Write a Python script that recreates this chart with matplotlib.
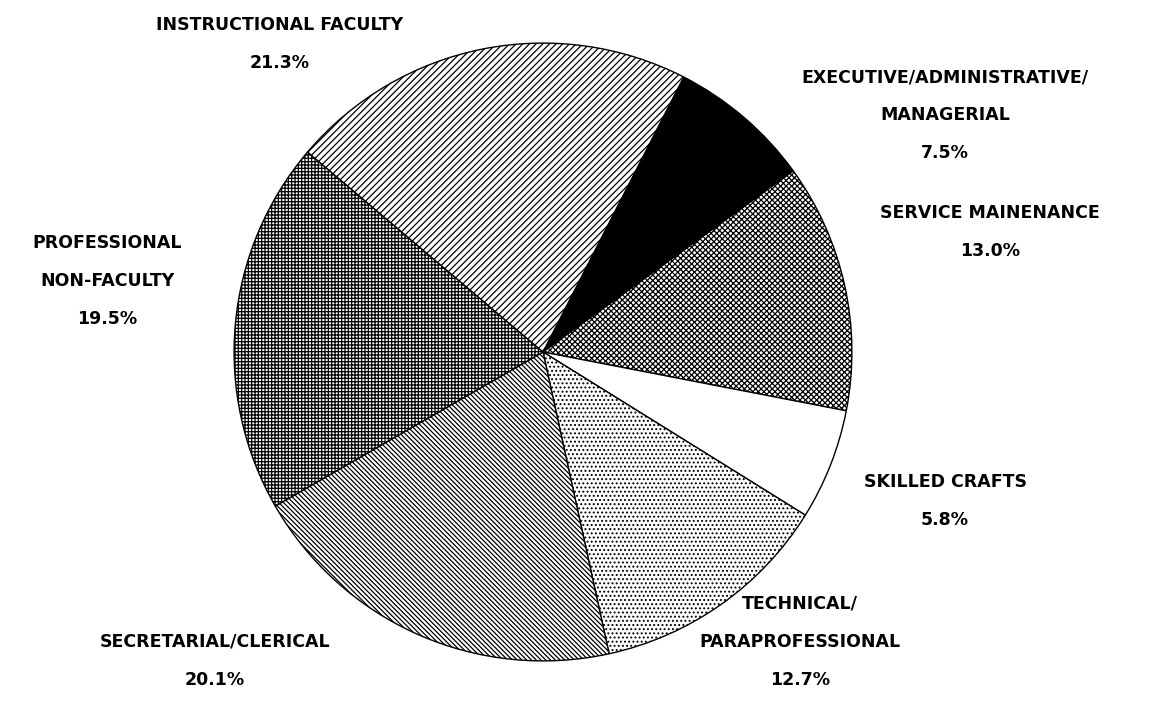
import matplotlib
matplotlib.use("Agg")
import matplotlib.pyplot as plt

# employee categories, clockwise from the top (starting with executive)
categories = ["EXECUTIVE/ADMINISTRATIVE/\nMANAGERIAL", "SERVICE MAINENANCE",
              "SKILLED CRAFTS", "TECHNICAL/\nPARAPROFESSIONAL",
              "SECRETARIAL/CLERICAL", "PROFESSIONAL\nNON-FACULTY",
              "INSTRUCTIONAL FACULTY"]
shares = [7.5, 13.0, 5.8, 12.7, 20.1, 19.5, 21.3]

fills = ["black", "white", "white", "white", "white", "white", "white"]
hatches = [None, "xxxxxx", None, "....", "\\\\\\\\\\\\\\", "+++++", "/////"]

# label anchor (pixel centre of first line)
label_px = [(945, 77), (990, 213), (945, 482), (800, 604),
            (215, 642), (107, 243), (280, 25)]

W, H = 1160, 705
plt.rcParams["hatch.linewidth"] = 0.9

fig = plt.figure(figsize=(W / 100, H / 100), dpi=100)
cx, cy, r = 543, 352, 312
ax = fig.add_axes([(cx - r) / W, (H - cy - r) / H, 2 * r / W, 2 * r / H])

wedges, _ = ax.pie(shares, startangle=62.9, counterclock=False,
                   colors=fills, wedgeprops=dict(edgecolor="black", linewidth=1.0))
for w, h in zip(wedges, hatches):
    if h:
        w.set_hatch(h)
ax.set_xlim(-1.01, 1.01)
ax.set_ylim(-1.01, 1.01)
ax.axis("off")

for cat, val, (x, y) in zip(categories, shares, label_px):
    lines = cat.split("\n") + [f"{val:.1f}%"]
    for i, line in enumerate(lines):
        fig.text(x / W, 1 - (y + 38 * i) / H, line, ha="center", va="center",
                 fontsize=12.5, fontweight="semibold", family="DejaVu Sans")

fig.savefig("out.png", dpi=100, facecolor="white")
